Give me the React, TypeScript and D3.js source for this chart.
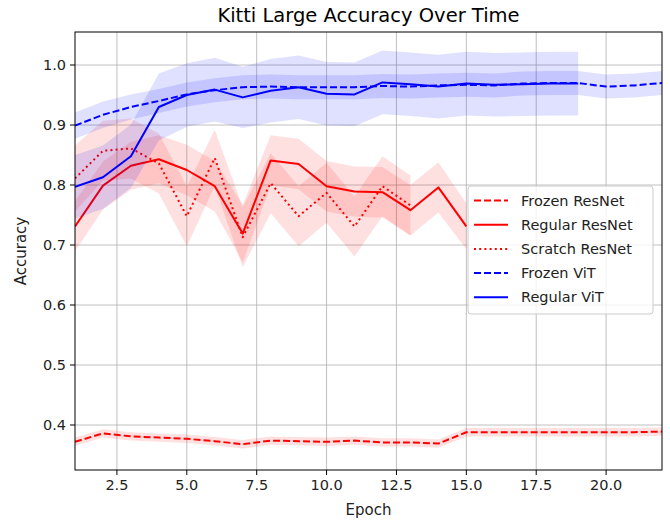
import React from "react";
import * as d3 from "d3";

// Mean accuracy per epoch and its spread, one array per run
const frozenResNetMean = [0.372, 0.386, 0.381, 0.379, 0.377, 0.373, 0.368, 0.374, 0.373, 0.372, 0.374, 0.371, 0.371, 0.369, 0.388, 0.388, 0.388, 0.388, 0.388, 0.388, 0.388, 0.389];
const frozenResNetStd = [0.007, 0.007, 0.007, 0.007, 0.007, 0.007, 0.007, 0.007, 0.007, 0.007, 0.007, 0.007, 0.007, 0.007, 0.007, 0.007, 0.007, 0.007, 0.007, 0.007, 0.007, 0.007];

const regularResNetMean = [0.731, 0.799, 0.832, 0.843, 0.825, 0.798, 0.719, 0.841, 0.835, 0.798, 0.789, 0.788, 0.758, 0.796, 0.731];
const regularResNetStd = [0.042, 0.04, 0.04, 0.04, 0.042, 0.042, 0.048, 0.042, 0.042, 0.042, 0.042, 0.042, 0.042, 0.042, 0.038];

const scratchResNetMean = [0.811, 0.857, 0.861, 0.836, 0.748, 0.845, 0.713, 0.803, 0.748, 0.787, 0.731, 0.798, 0.766];
const scratchResNetStd = [0.055, 0.05, 0.05, 0.05, 0.05, 0.047, 0.05, 0.05, 0.05, 0.05, 0.05, 0.05, 0.05];

const frozenViTMean = [0.899, 0.917, 0.93, 0.94, 0.951, 0.958, 0.963, 0.964, 0.963, 0.963, 0.963, 0.965, 0.964, 0.966, 0.967, 0.966, 0.969, 0.97, 0.97, 0.964, 0.966, 0.97];
const frozenViTStd = [0.022, 0.022, 0.021, 0.02, 0.02, 0.02, 0.02, 0.02, 0.02, 0.02, 0.02, 0.02, 0.02, 0.02, 0.02, 0.02, 0.02, 0.02, 0.02, 0.02, 0.02, 0.02];

const regularViTMean = [0.797, 0.813, 0.848, 0.93, 0.95, 0.959, 0.946, 0.957, 0.963, 0.952, 0.951, 0.971, 0.968, 0.964, 0.969, 0.967, 0.968, 0.969, 0.969];
const regularViTStd = [0.053, 0.053, 0.053, 0.056, 0.053, 0.053, 0.051, 0.053, 0.053, 0.053, 0.053, 0.053, 0.053, 0.053, 0.053, 0.053, 0.053, 0.053, 0.053];

const xTicks = [2.5, 5.0, 7.5, 10.0, 12.5, 15.0, 17.5, 20.0];
const yTicks = [0.4, 0.5, 0.6, 0.7, 0.8, 0.9, 1.0];

type Series = {
  label: string;
  mean: number[];
  std: number[];
  color: string;
  dash: string | null;
};

const DASHED = "7,3";
const DOTTED = "2,3.2";

const series: Series[] = [
  { label: "Frozen ResNet", mean: frozenResNetMean, std: frozenResNetStd, color: "#ff0000", dash: DASHED },
  { label: "Regular ResNet", mean: regularResNetMean, std: regularResNetStd, color: "#ff0000", dash: null },
  { label: "Scratch ResNet", mean: scratchResNetMean, std: scratchResNetStd, color: "#ff0000", dash: DOTTED },
  { label: "Frozen ViT", mean: frozenViTMean, std: frozenViTStd, color: "#0000ff", dash: DASHED },
  { label: "Regular ViT", mean: regularViTMean, std: regularViTStd, color: "#0000ff", dash: null },
];

const W = 670;
const H = 520;
const plot = { left: 75, right: 662, top: 32, bottom: 470 };
const FONT = "DejaVu Sans, sans-serif";

export default function App() {
  const x = d3.scaleLinear().domain([1, 22]).range([plot.left, plot.right]);
  const y = d3.scaleLinear().domain([0.325, 1.055]).range([plot.bottom, plot.top]);

  const line = d3
    .line<number>()
    .x((_, i) => x(i + 1))
    .y((d) => y(d));

  const bandFor = (s: Series) =>
    d3
      .area<number>()
      .x((_, i) => x(i + 1))
      .y0((d, i) => y(d - s.std[i]))
      .y1((d, i) => y(d + s.std[i]))(s.mean) || "";

  const legend = { x: 468, y: 186, w: 185, h: 128, row: 24.2 };

  return (
    <svg
      width={W}
      height={H}
      style={{ position: "absolute", left: 0, top: 0, background: "#fff" }}
      fontFamily={FONT}
    >
      <defs>
        <clipPath id="plot-clip">
          <rect x={plot.left} y={plot.top} width={plot.right - plot.left} height={plot.bottom - plot.top} />
        </clipPath>
      </defs>

      {/* grid */}
      <g stroke="#b0b0b0" strokeWidth={0.8}>
        {xTicks.map((t) => (
          <line key={"gx" + t} x1={x(t)} x2={x(t)} y1={plot.top} y2={plot.bottom} />
        ))}
        {yTicks.map((t) => (
          <line key={"gy" + t} x1={plot.left} x2={plot.right} y1={y(t)} y2={y(t)} />
        ))}
      </g>

      {/* bands and mean lines */}
      <g clipPath="url(#plot-clip)">
        {series.map((s) => (
          <g key={s.label}>
            <path d={bandFor(s)} fill={s.color} fillOpacity={0.12} stroke="none" />
            <path
              d={line(s.mean) || ""}
              fill="none"
              stroke={s.color}
              strokeWidth={2}
              strokeDasharray={s.dash ?? undefined}
              strokeLinejoin="round"
            />
          </g>
        ))}
      </g>

      {/* spines */}
      <rect
        x={plot.left}
        y={plot.top}
        width={plot.right - plot.left}
        height={plot.bottom - plot.top}
        fill="none"
        stroke="#000"
        strokeWidth={1}
      />

      {/* x axis */}
      <g>
        {xTicks.map((t) => (
          <g key={"xt" + t}>
            <line x1={x(t)} x2={x(t)} y1={plot.bottom} y2={plot.bottom + 5} stroke="#000" strokeWidth={1} />
            <text x={x(t)} y={plot.bottom + 20} textAnchor="middle" fontSize={14.5} fill="#222">
              {t.toFixed(1)}
            </text>
          </g>
        ))}
        <text x={(plot.left + plot.right) / 2} y={515} textAnchor="middle" fontSize={15} fill="#222">
          Epoch
        </text>
      </g>

      {/* y axis */}
      <g>
        {yTicks.map((t) => (
          <g key={"yt" + t}>
            <line x1={plot.left - 5} x2={plot.left} y1={y(t)} y2={y(t)} stroke="#000" strokeWidth={1} />
            <text x={plot.left - 9} y={y(t)} dy="0.35em" textAnchor="end" fontSize={14.5} fill="#222">
              {t.toFixed(1)}
            </text>
          </g>
        ))}
        <text
          transform={`translate(26, ${(plot.top + plot.bottom) / 2}) rotate(-90)`}
          textAnchor="middle"
          fontSize={15}
          fill="#222"
        >
          Accuracy
        </text>
      </g>

      {/* title */}
      <text x={(plot.left + plot.right) / 2} y={22} textAnchor="middle" fontSize={19.5} fill="#000">
        Kitti Large Accuracy Over Time
      </text>

      {/* legend */}
      <g>
        <rect
          x={legend.x}
          y={legend.y}
          width={legend.w}
          height={legend.h}
          rx={3}
          fill="#fff"
          fillOpacity={0.8}
          stroke="#cccccc"
          strokeWidth={1}
        />
        {series.map((s, i) => {
          const cy = legend.y + 14.5 + i * legend.row;
          return (
            <g key={"lg" + s.label}>
              <line
                x1={legend.x + 6}
                x2={legend.x + 40}
                y1={cy}
                y2={cy}
                stroke={s.color}
                strokeWidth={2}
                strokeDasharray={s.dash ?? undefined}
              />
              <text x={legend.x + 53} y={cy} dy="0.35em" fontSize={14.5} fill="#222">
                {s.label}
              </text>
            </g>
          );
        })}
      </g>
    </svg>
  );
}
